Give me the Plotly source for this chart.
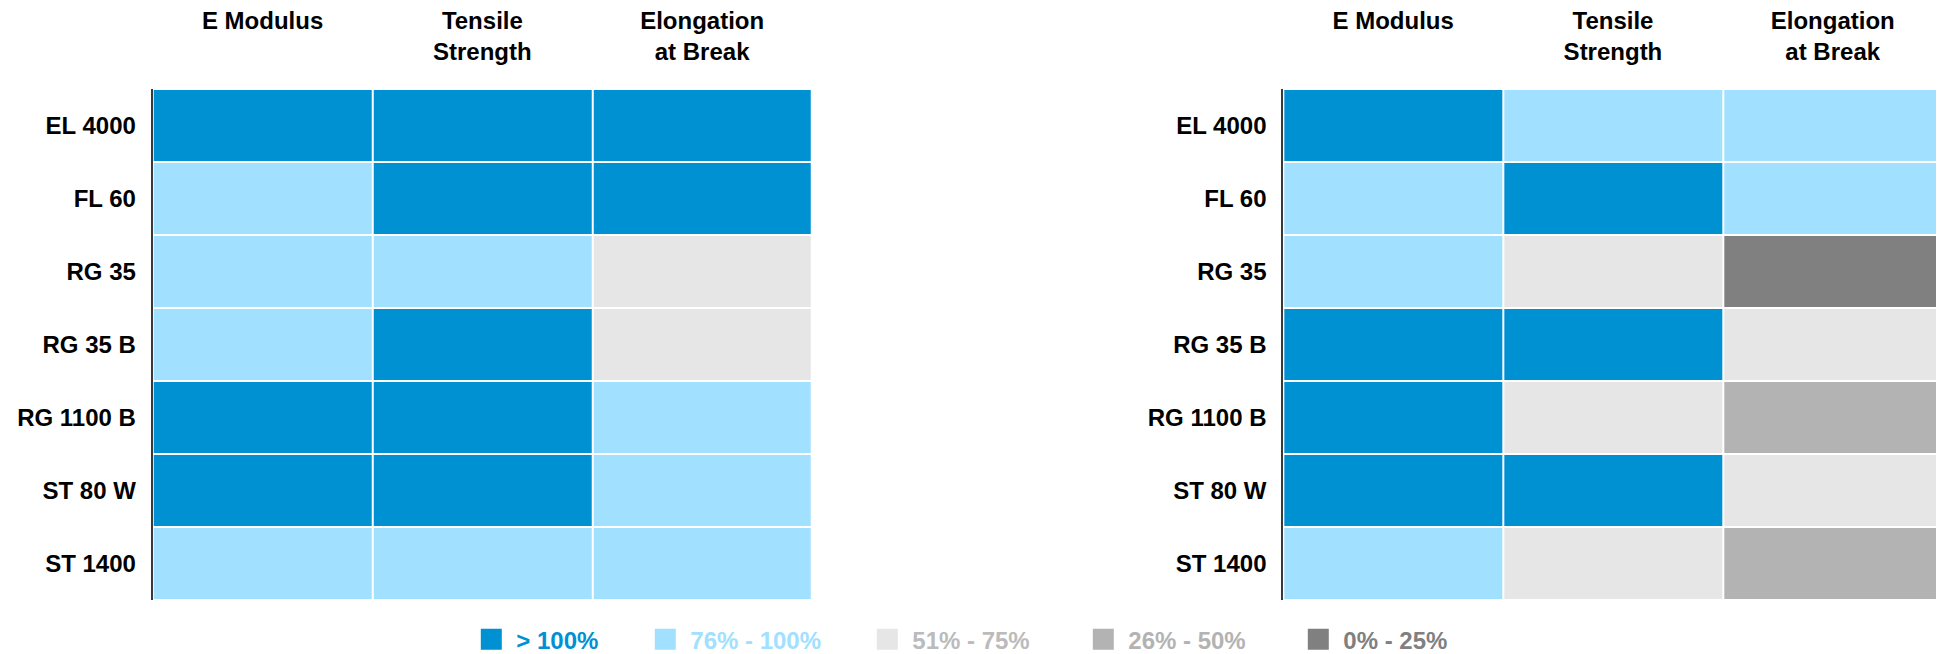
import plotly.graph_objects as go

# ---- data ----
properties = ["E Modulus", "Tensile Strength", "Elongation at Break"]
property_labels = ["E Modulus<br>&nbsp;", "Tensile<br>Strength", "Elongation<br>at Break"]
grades = ["EL 4000", "FL 60", "RG 35", "RG 35 B", "RG 1100 B", "ST 80 W", "ST 1400"]

levels = ["0% - 25%", "26% - 50%", "51% - 75%", "76% - 100%", "> 100%"]
level_colors = ["#808080", "#B3B3B3", "#E6E6E6", "#A1E0FF", "#0091D3"]
level_text_colors = ["#808080", "#B3B3B3", "#BBBBBB", "#A1E0FF", "#0091D3"]
legend_widths = [104, 160, 161, 167, 119]

left_ratings = [
    ["> 100%", "> 100%", "> 100%"],
    ["76% - 100%", "> 100%", "> 100%"],
    ["76% - 100%", "76% - 100%", "51% - 75%"],
    ["76% - 100%", "> 100%", "51% - 75%"],
    ["> 100%", "> 100%", "76% - 100%"],
    ["> 100%", "> 100%", "76% - 100%"],
    ["76% - 100%", "76% - 100%", "76% - 100%"],
]
right_ratings = [
    ["> 100%", "76% - 100%", "76% - 100%"],
    ["76% - 100%", "> 100%", "76% - 100%"],
    ["76% - 100%", "51% - 75%", "0% - 25%"],
    ["> 100%", "> 100%", "51% - 75%"],
    ["> 100%", "51% - 75%", "26% - 50%"],
    ["> 100%", "> 100%", "51% - 75%"],
    ["76% - 100%", "51% - 75%", "26% - 50%"],
]

# ---- build ----
n = len(levels)
colorscale = []
for i, c in enumerate(level_colors):
    colorscale.append([i / n, c])
    colorscale.append([(i + 1) / n, c])

FONT = "Liberation Sans, Arial, Helvetica, sans-serif"


def codes(ratings):
    return [[levels.index(v) for v in row] for row in ratings]


fig = go.Figure()
for ratings, xa, ya in [(left_ratings, "x", "y"), (right_ratings, "x2", "y2")]:
    fig.add_trace(go.Heatmap(
        z=codes(ratings), x=properties, y=grades,
        xaxis=xa, yaxis=ya,
        colorscale=colorscale, zmin=-0.5, zmax=n - 0.5,
        showscale=False, xgap=2, ygap=2,
        customdata=ratings,
        hovertemplate="%{y}<br>%{x}: %{customdata}<extra></extra>",
    ))

for i in reversed(range(n)):
    fig.add_trace(go.Scatter(
        x=[None], y=[None], mode="markers",
        marker=dict(symbol="square", size=16, color=level_colors[i],
                    line=dict(width=5, color=level_colors[i])),
        name=f"<span style='color:{level_text_colors[i]}'>{levels[i].replace('>', '&gt;')}</span>",
        legendwidth=legend_widths[i],
        showlegend=True, hoverinfo="skip",
    ))

W, H = 1944, 654
OFF = 8  # page body margin
xaxis_common = dict(
    type="category", side="top", ticks="", ticklen=0, showgrid=False, zeroline=False,
    showline=False, tickvals=properties, ticktext=property_labels,
    tickfont=dict(family=FONT, size=24, color="#000000", weight="bold"),
    ticklabelstandoff=23, fixedrange=True,
)
yaxis_common = dict(
    type="category", autorange="reversed", ticks="", ticklen=0, showgrid=False,
    zeroline=False, showline=True, linecolor="#3a3a3a", linewidth=2,
    tickfont=dict(family=FONT, size=24, color="#000000", weight="bold"),
    ticklabelstandoff=10, fixedrange=True,
)

top = 89 - OFF
bottom = 600 - OFF
fig.update_layout(
    width=W, height=H,
    template="none",
    paper_bgcolor="white", plot_bgcolor="white",
    margin=dict(l=0, r=0, t=top, b=H - bottom, pad=0, autoexpand=False),
    xaxis=dict(domain=[(152.7 - OFF) / W, (812 - OFF) / W], anchor="y", **xaxis_common),
    yaxis=dict(domain=[0, 1], anchor="x", **yaxis_common),
    xaxis2=dict(domain=[(1283.3 - OFF) / W, (1942.6 - OFF) / W], anchor="y2", **xaxis_common),
    yaxis2=dict(domain=[0, 1], anchor="x2", **yaxis_common),
    showlegend=True,
    legend=dict(
        orientation="h", x=(466.3 - OFF) / W, xanchor="left",
        y=(bottom - (639.7 - OFF)) / (bottom - top), yanchor="middle", itemwidth=40,
        font=dict(family=FONT, size=24, weight="bold"),
        bgcolor="rgba(0,0,0,0)", borderwidth=0,
        itemclick=False, itemdoubleclick=False,
    ),
)

fig.write_html("out.html")
